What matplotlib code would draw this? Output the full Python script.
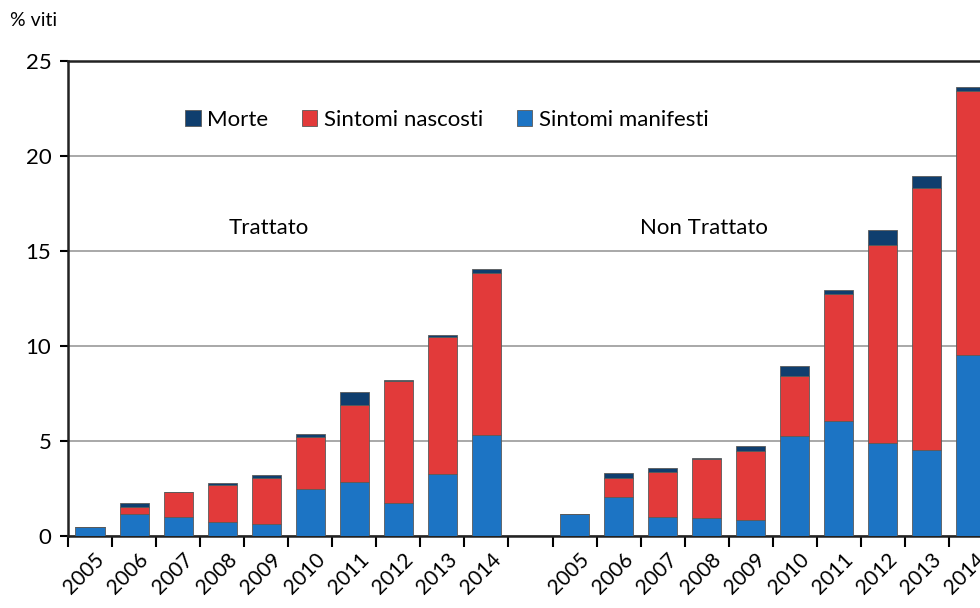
import matplotlib
matplotlib.use("Agg")
import matplotlib.pyplot as plt
import numpy as np

plt.rcParams["font.family"] = ["Lato", "DejaVu Sans"]

years = ["2005", "2006", "2007", "2008", "2009", "2010", "2011", "2012", "2013", "2014"]

# Trattato
t_manifesti = [0.49, 1.14, 1.00, 0.75, 0.63, 2.47, 2.85, 1.75, 3.26, 5.30]
t_nascosti = [0.00, 0.40, 1.30, 1.91, 2.43, 2.73, 4.03, 6.43, 7.20, 8.56]
t_morte = [0.00, 0.21, 0.03, 0.14, 0.13, 0.16, 0.70, 0.03, 0.14, 0.21]

# Non Trattato
n_manifesti = [1.16, 2.07, 1.00, 0.95, 0.86, 5.25, 6.06, 4.87, 4.54, 9.51]
n_nascosti = [0.00, 1.00, 2.35, 3.10, 3.64, 3.19, 6.69, 10.46, 13.78, 13.93]
n_morte = [0.00, 0.22, 0.24, 0.07, 0.25, 0.51, 0.18, 0.75, 0.65, 0.17]

c_manifesti = "#1c74c4"
c_nascosti = "#e23a3a"
c_morte = "#0f3e6e"

manifesti = np.array(t_manifesti + [0] + n_manifesti)
nascosti = np.array(t_nascosti + [0] + n_nascosti)
morte = np.array(t_morte + [0] + n_morte)
labels = years + [""] + years
x = np.arange(len(labels))

fig = plt.figure(figsize=(9.8, 6.08), dpi=100)
ax = fig.add_axes([68 / 980, 72 / 608, 925 / 980, 475 / 608])

w = 0.66
edge = dict(edgecolor="#5a5a5a", linewidth=0.6)
b1 = ax.bar(x, manifesti, w, color=c_manifesti, **edge, zorder=3)
b2 = ax.bar(x, nascosti, w, bottom=manifesti, color=c_nascosti, **edge, zorder=3)
b3 = ax.bar(x, morte, w, bottom=manifesti + nascosti, color=c_morte, **edge, zorder=3)

ax.set_xlim(-0.5, len(labels) - 0.5)
ax.set_ylim(0, 25)
ax.set_yticks([0, 5, 10, 15, 20, 25])
ax.tick_params(axis="y", labelsize=16, length=6, width=1.5, direction="out", pad=6)
ax.yaxis.grid(True, color="#999999", linewidth=1.2, zorder=0)
ax.set_axisbelow(True)

ax.set_xticks(x + 0.1)
ax.set_xticklabels(labels, rotation=45, ha="right", rotation_mode="anchor", fontsize=15)
ax.set_xticks(np.arange(-0.5, len(labels)), minor=True)
ax.tick_params(axis="x", which="major", length=0, pad=10)
ax.tick_params(axis="x", which="minor", length=8, width=1.5, direction="out")

for s in ["left", "bottom", "top"]:
    ax.spines[s].set_linewidth(1.8)
    ax.spines[s].set_color("#222222")
ax.spines["right"].set_visible(False)

ax.text(4.05, 16.2, "Trattato", fontsize=16, ha="center", va="center")
ax.text(13.93, 16.2, "Non Trattato", fontsize=16, ha="center", va="center")

ax.legend([b3, b2, b1], ["Morte", "Sintomi nascosti", "Sintomi manifesti"],
          loc="center left", bbox_to_anchor=(0.105, 0.876), ncol=3, frameon=False,
          fontsize=16, handlelength=0.7, handleheight=0.7, handletextpad=0.3,
          columnspacing=1.5)

fig.text(10 / 980, 1 - 20 / 608, "% viti", fontsize=14, ha="left", va="center")

fig.savefig("out.png", dpi=100)
